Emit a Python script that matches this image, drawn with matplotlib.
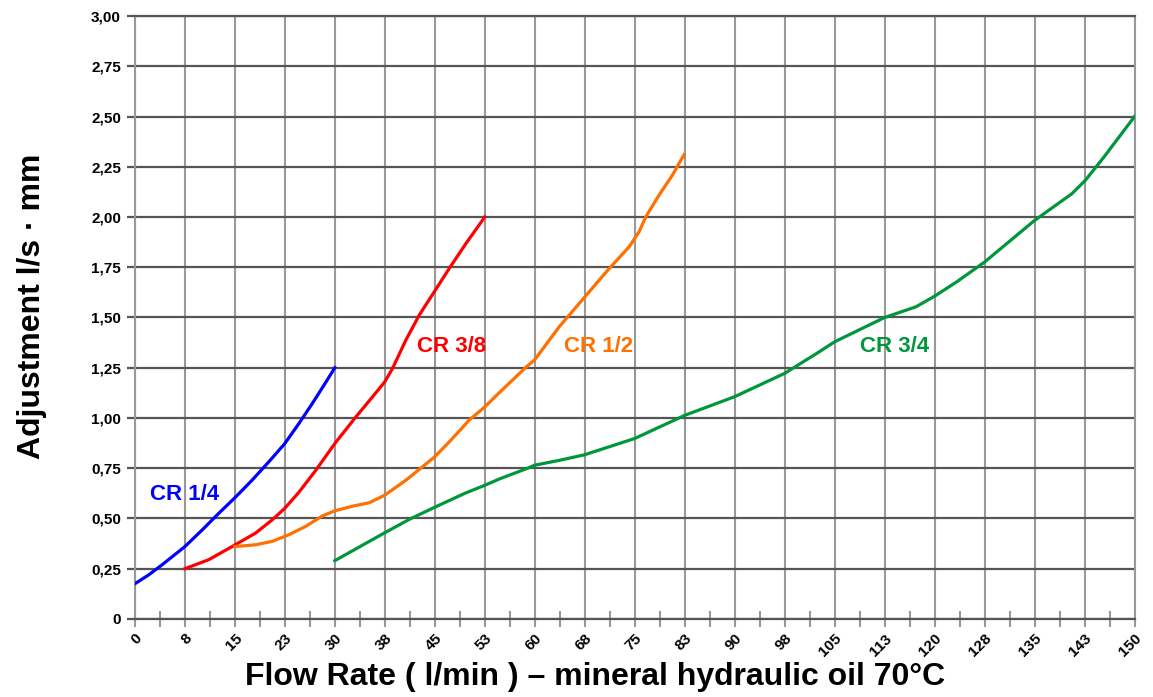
import matplotlib.pyplot as plt
import numpy as np
from matplotlib import font_manager

# flow rate (l/min) and adjustment (l/s . mm)
cr14_x = [0, 2.1, 4.1, 7.5, 10.1, 12.6, 15, 17.6, 20.1, 22.5, 24.6, 26.6, 28.35, 30]
cr14_y = [0.175, 0.22, 0.27, 0.36, 0.443, 0.526, 0.603, 0.691, 0.782, 0.873, 0.972, 1.071, 1.162, 1.25]

cr38_x = [7.5, 11.1, 15, 18.1, 20.6, 22.5, 24.6, 27.15, 30, 33.15, 35.65, 37.5, 38.65,
          40.65, 42.65, 45, 47.15, 49.65, 52.5]
cr38_y = [0.25, 0.295, 0.368, 0.427, 0.493, 0.551, 0.63, 0.74, 0.873, 1.005, 1.105, 1.18, 1.246,
          1.387, 1.511, 1.632, 1.743, 1.867, 2.0]

cr12_x = [15, 18.1, 20.6, 23.1, 25.6, 28.1, 30, 32.65, 35.15, 37.5, 40.65, 43.15, 45, 47.65,
          50.15, 52.5, 54.65, 58.7, 60, 63.65, 67.5, 71.15, 74.15, 75.65, 76.65, 78.65,
          80.65, 82.4]
cr12_y = [0.36, 0.369, 0.386, 0.419, 0.46, 0.512, 0.538, 0.561, 0.578, 0.616, 0.69, 0.757, 0.807, 0.898,
          0.989, 1.055, 1.125, 1.253, 1.29, 1.453, 1.602, 1.743, 1.851, 1.926, 2.0, 2.109,
          2.208, 2.31]

cr34_x = [30, 37.5, 41.15, 45, 49.65, 52.5, 54.65, 58.7, 60, 63.8, 67.5, 75, 82.5, 90, 97.5,
          102.3, 105, 112.5, 117.2, 120, 123.3, 127.5, 135, 140.6, 142.6, 145.4, 150]
cr34_y = [0.29, 0.429, 0.495, 0.556, 0.627, 0.665, 0.696, 0.747, 0.765, 0.79, 0.817, 0.898, 1.013,
          1.106, 1.222, 1.321, 1.379, 1.5, 1.553, 1.606, 1.677, 1.776, 1.983, 2.116, 2.182,
          2.298, 2.5]

x_ticks = [0, 7.5, 15, 22.5, 30, 37.5, 45, 52.5, 60, 67.5, 75, 82.5, 90, 97.5, 105,
           112.5, 120, 127.5, 135, 142.5, 150]
x_labels = ['0', '8', '15', '23', '30', '38', '45', '53', '60', '68', '75', '83', '90',
            '98', '105', '113', '120', '128', '135', '143', '150']
y_ticks = [0, 0.25, 0.5, 0.75, 1.0, 1.25, 1.5, 1.75, 2.0, 2.25, 2.5, 2.75, 3.0]
y_labels = ['0', '0,25', '0,50', '0,75', '1,00', '1,25', '1,50', '1,75', '2,00',
            '2,25', '2,50', '2,75', '3,00']

plt.rcParams['font.family'] = ['Liberation Sans', 'DejaVu Sans']
names = {f.name for f in font_manager.fontManager.ttflist}
narrow = 'Liberation Sans Narrow' if 'Liberation Sans Narrow' in names else 'Liberation Sans'

fig = plt.figure(figsize=(11.53, 6.97), dpi=100)
ax = fig.add_axes([0.117, 0.112, 0.867, 0.865])

ax.set_xlim(0, 150)
ax.set_ylim(0, 3.0)

# grid: dark horizontals, light verticals
for yv in y_ticks:
    ax.axhline(yv, color='#555555', lw=1.6, zorder=1)
for xv in x_ticks:
    ax.axvline(xv, color='#999999', lw=1.5, zorder=0.5)

ax.plot(cr14_x, cr14_y, color='#0000FF', lw=2.3, zorder=3, solid_joinstyle='round')
ax.plot(cr38_x, cr38_y, color='#FF0000', lw=2.3, zorder=3, solid_joinstyle='round')
ax.plot(cr12_x, cr12_y, color='#FF7000', lw=2.3, zorder=3, solid_joinstyle='round')
ax.plot(cr34_x, cr34_y, color='#00963C', lw=2.3, zorder=3, solid_joinstyle='round')

ax.text(7.5, 0.62, 'CR 1/4', color='#0000FF', fontsize=16, fontweight='bold', ha='center', va='center')
ax.text(47.5, 1.355, 'CR 3/8', color='#FF0000', fontsize=16, fontweight='bold', ha='center', va='center')
ax.text(69.5, 1.355, 'CR 1/2', color='#FF7000', fontsize=16, fontweight='bold', ha='center', va='center')
ax.text(114, 1.355, 'CR 3/4', color='#00963C', fontsize=16, fontweight='bold', ha='center', va='center')

ax.set_xticks(x_ticks)
ax.set_xticklabels(x_labels, rotation=45, ha='right', rotation_mode='anchor',
                   fontsize=11, fontweight='bold')
ax.set_xticks(np.array(x_ticks[:-1]) + 3.75, minor=True)
ax.set_yticks(y_ticks)
ax.set_yticklabels(y_labels, fontsize=11, fontweight='bold')

ax.tick_params(axis='x', which='major', length=6, width=1.5, color='#999999', pad=3)
ax.tick_params(axis='x', which='minor', direction='inout', length=12, width=1.5, color='#999999')
ax.tick_params(axis='y', which='major', length=6, width=1.6, color='#555555', pad=4)

for side in ['left', 'right']:
    ax.spines[side].set_color('#999999')
    ax.spines[side].set_linewidth(1.5)
for side in ['top', 'bottom']:
    ax.spines[side].set_color('#555555')
    ax.spines[side].set_linewidth(1.6)

fig.text(0.028, 0.56, 'Adjustment l/s · mm', rotation=90, fontsize=23,
         fontweight='bold', ha='center', va='center')
xl = fig.text(0.516, 0.029, 'Flow Rate ( l/min ) – mineral hydraulic oil 70°C',
              fontsize=26, fontweight='bold', family=[narrow, 'DejaVu Sans'],
              ha='center', va='center')
# shrink the axis title until it fits the width it has in the original
renderer = fig.canvas.get_renderer()
w = xl.get_window_extent(renderer).width
if w > 700:
    xl.set_fontsize(26 * 700 / w)

fig.savefig('out.png', dpi=100)
